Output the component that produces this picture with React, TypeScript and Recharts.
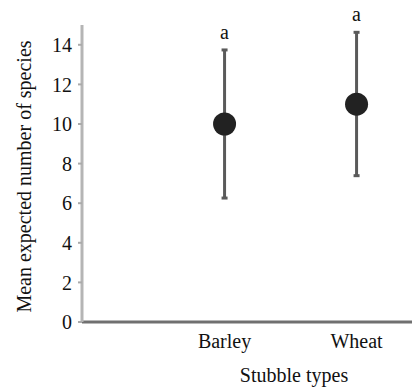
import React from 'react';
import { ScatterChart, Scatter, XAxis, YAxis, ErrorBar, Label } from 'recharts';

const categories = ['Barley', 'Wheat'];
const positions = [1, 2];
const means = [10, 11];
const lowers = [6.26, 7.39];
const uppers = [13.74, 14.63];
const letters = ['a', 'a'];
const yTicks = [0, 2, 4, 6, 8, 10, 12, 14];

const pointData = categories.map((c, i) => ({
  x: positions[i],
  y: means[i],
  err: [means[i] - lowers[i], uppers[i] - means[i]],
}));

const letterData = categories.map((c, i) => ({
  x: positions[i],
  y: uppers[i],
  letter: letters[i],
}));

const FONT = '"Liberation Serif", "DejaVu Serif", serif';

const Dot = (props: any) => (
  <circle cx={props.cx} cy={props.cy} r={11.5} fill="#222222" />
);

const Letter = (props: any) => (
  <text
    x={props.cx}
    y={props.cy - 11}
    textAnchor="middle"
    fontFamily={FONT}
    fontSize={20}
    fill="#111"
  >
    {props.payload?.letter}
  </text>
);

export default function App() {
  return (
    <div style={{ position: 'absolute', left: 0, top: 0 }}>
      <style>{`svg text, svg tspan { font-family: "Liberation Serif", "DejaVu Serif", serif !important; }`}</style>
      <ScatterChart
        width={412}
        height={390}
        margin={{ top: 25, right: 0, left: 0, bottom: 0 }}
        style={{ fontFamily: FONT }}
      >
        <XAxis
          type="number"
          dataKey="x"
          domain={[-0.08, 2.42]}
          ticks={positions}
          tickFormatter={(v: number) => categories[positions.indexOf(v)] ?? ''}
          height={68}
          tickLine={false}
          tickSize={0}
          tickMargin={12}
          axisLine={{ stroke: '#707070', strokeWidth: 3 }}
          tick={{ fill: '#111', fontSize: 20, fontFamily: FONT }}
        >
          <Label
            value="Stubble types"
            position="insideBottom"
            offset={8}
            dx={47}
            style={{ fill: '#111', fontSize: 20, fontFamily: FONT }}
          />
        </XAxis>
        <YAxis
          type="number"
          dataKey="y"
          domain={[0, 15]}
          ticks={yTicks}
          width={82}
          tickSize={4}
          tickMargin={6}
          tickLine={{ stroke: '#aaaaaa', strokeWidth: 2 }}
          axisLine={{ stroke: '#b5b5b5', strokeWidth: 3 }}
          tick={{ fill: '#111', fontSize: 20, fontFamily: FONT }}
        >
          <Label
            value="Mean expected number of species"
            angle={-90}
            position="insideLeft"
            offset={24}
            dy={3}
            style={{ fill: '#111', fontSize: 20, fontFamily: FONT, textAnchor: 'middle' }}
          />
        </YAxis>
        <Scatter data={pointData} shape={Dot} isAnimationActive={false}>
          <ErrorBar dataKey="err" direction="y" width={3} stroke="#5a5a5a" strokeWidth={3} />
        </Scatter>
        <Scatter data={letterData} shape={Letter} isAnimationActive={false} />
      </ScatterChart>
    </div>
  );
}
